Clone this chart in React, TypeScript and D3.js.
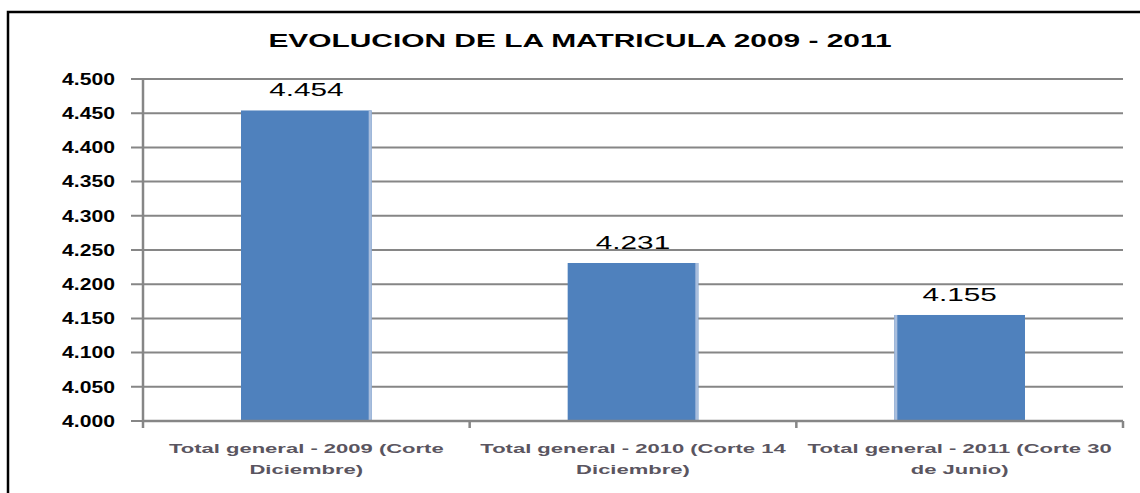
import * as d3 from 'd3';
import React, { useEffect, useRef } from 'react';

// chart data
const title = 'EVOLUCION DE LA MATRICULA 2009 - 2011';
const categoryLines: string[][] = [
   ['Total general - 2009 (Corte', 'Diciembre)'],
   ['Total general - 2010 (Corte 14', 'Diciembre)'],
   ['Total general - 2011 (Corte 30', 'de Junio)'],
];
const values = [4454, 4231, 4155];
const yDomain: [number, number] = [4000, 4500];
const yTickStep = 50;

const FONT = '"Liberation Sans", Arial, sans-serif';
const BAR = '#4F81BD';
const GRID = '#868686';

// es-style number format, 4500 -> "4.500"
const esFormat = d3
   .formatLocale({ decimal: ',', thousands: '.', grouping: [3], currency: ['', ''] })
   .format(',');

// the source image is stretched horizontally, so widen each text run
const stretch = (
   sel: d3.Selection<SVGTextElement, unknown, null, undefined>,
   factor: number,
) => {
   sel.each(function () {
      const w = (this as SVGTextElement).getComputedTextLength();
      d3.select(this)
         .attr('textLength', w * factor)
         .attr('lengthAdjust', 'spacingAndGlyphs');
   });
};

const App = () => {
   const svgRef = useRef<SVGSVGElement | null>(null);

   useEffect(() => {
      const svgEl = svgRef.current;
      if (!svgEl) return;
      const svg = d3.select(svgEl);
      svg.selectAll('*').remove();

      const width = 1140;
      const height = 493;
      const margin = { top: 79, right: 17, bottom: 72, left: 143 };

      svg.append('rect')
         .attr('width', width)
         .attr('height', height)
         .attr('fill', '#fff');

      // chart frame (runs off the right and bottom of the picture)
      svg.append('rect')
         .attr('x', 8)
         .attr('y', 12)
         .attr('width', 1200)
         .attr('height', 600)
         .attr('fill', 'none')
         .attr('stroke', '#000')
         .attr('stroke-width', 2.5);

      const x = d3
         .scaleBand<number>()
         .domain(d3.range(values.length))
         .range([margin.left, width - margin.right])
         .paddingInner(0.6)
         .paddingOuter(0.3);

      const step = x.step();
      const y = d3
         .scaleLinear()
         .domain(yDomain)
         .range([height - margin.bottom, margin.top]);

      const yTicks = d3.range(yDomain[0], yDomain[1] + 1, yTickStep);
      const x0 = margin.left;
      const x1 = width - margin.right;
      const yBase = y(yDomain[0]);

      // gridlines + y tick marks
      svg.append('g')
         .selectAll('line')
         .data(yTicks)
         .join('line')
         .attr('x1', x0 - 12)
         .attr('x2', x1)
         .attr('y1', (d) => y(d))
         .attr('y2', (d) => y(d))
         .attr('stroke', GRID)
         .attr('stroke-width', 2);

      // y labels
      const yLabels = svg
         .append('g')
         .selectAll('text')
         .data(yTicks)
         .join('text')
         .attr('x', 115)
         .attr('y', (d) => y(d))
         .attr('dy', '0.36em')
         .attr('text-anchor', 'end')
         .attr('font-family', FONT)
         .attr('font-weight', 'bold')
         .attr('font-size', 16)
         .attr('fill', '#000')
         .text((d) => esFormat(d));
      stretch(yLabels as any, 1.32);

      // bars
      const bars = svg.append('g');
      values.forEach((v, i) => {
         const bx = x(i) as number;
         bars.append('rect')
            .attr('x', bx)
            .attr('y', y(v))
            .attr('width', x.bandwidth())
            .attr('height', yBase - y(v))
            .attr('fill', BAR);
         // light edge seen on the source bars
         bars.append('rect')
            .attr('x', i === 2 ? bx : bx + x.bandwidth() - 3)
            .attr('y', y(v))
            .attr('width', 3)
            .attr('height', yBase - y(v))
            .attr('fill', '#A9BEDD');
      });

      // axes
      svg.append('line')
         .attr('x1', x0)
         .attr('x2', x0)
         .attr('y1', margin.top)
         .attr('y2', yBase + 7)
         .attr('stroke', GRID)
         .attr('stroke-width', 2.5);
      svg.append('line')
         .attr('x1', x0)
         .attr('x2', x1)
         .attr('y1', yBase)
         .attr('y2', yBase)
         .attr('stroke', GRID)
         .attr('stroke-width', 2.5);
      svg.append('g')
         .selectAll('line')
         .data(d3.range(1, values.length + 1))
         .join('line')
         .attr('x1', (i) => x0 + i * step)
         .attr('x2', (i) => x0 + i * step)
         .attr('y1', yBase)
         .attr('y2', yBase + 7)
         .attr('stroke', GRID)
         .attr('stroke-width', 2.5);

      // value labels
      const valLabels = svg
         .append('g')
         .selectAll('text')
         .data(values)
         .join('text')
         .attr('x', (_, i) => (x(i) as number) + x.bandwidth() / 2)
         .attr('y', (d) => y(d) - 14)
         .attr('text-anchor', 'middle')
         .attr('font-family', FONT)
         .attr('font-size', 18)
         .attr('fill', '#000')
         .text((d) => esFormat(d));
      stretch(valLabels as any, 1.65);

      // category labels, two lines each
      categoryLines.forEach((lines, i) => {
         const cx = (x(i) as number) + x.bandwidth() / 2;
         lines.forEach((line, j) => {
            const t = svg
               .append('text')
               .attr('x', cx)
               .attr('y', 453 + j * 21)
               .attr('text-anchor', 'middle')
               .attr('font-family', FONT)
               .attr('font-weight', 'bold')
               .attr('font-size', 13.5)
               .attr('fill', '#5a5560')
               .text(line);
            stretch(t as any, 1.63);
         });
      });

      // title
      const t = svg
         .append('text')
         .attr('x', 580)
         .attr('y', 47)
         .attr('text-anchor', 'middle')
         .attr('font-family', FONT)
         .attr('font-weight', 'bold')
         .attr('font-size', 18)
         .attr('fill', '#000')
         .text(title);
      stretch(t as any, 1.66);
   }, []);

   return (
      <svg
         ref={svgRef}
         width={1140}
         height={493}
         style={{ position: 'absolute', left: 0, top: 0, display: 'block' }}
      />
   );
};

export default App;
